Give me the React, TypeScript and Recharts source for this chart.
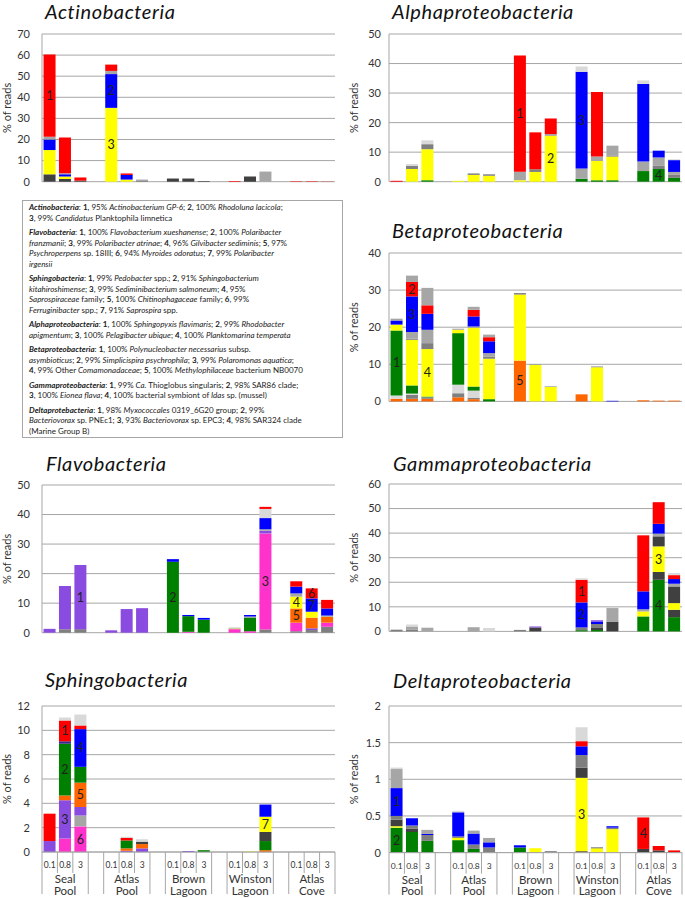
import { BarChart, Bar, XAxis, YAxis, CartesianGrid, LabelList } from "recharts";

const sites = ["Seal Pool", "Atlas Pool", "Brown Lagoon", "Winston Lagoon", "Atlas Cove"];
const fractions = ["0.1", "0.8", "3"];

const RED = "#FF0000";
const BLUE = "#0000FF";
const YELLOW = "#FFFF00";
const GREEN = "#008000";
const ORANGE = "#FF6600";
const PURPLE = "#8A4BE0";
const MAGENTA = "#FF33CC";
const NAVY = "#3B2A8A";
const DARK = "#404040";
const MID = "#7F7F7F";
const LIGHT = "#A6A6A6";
const PALE = "#D9D9D9";
const GRID = "#A6A6A6";

// bars: Seal 0.1, 0.8, 3 | Atlas Pool | Brown Lagoon | Winston Lagoon | Atlas Cove
// Actinobacteria
const actDark = [3.5, 1.3, 0.5, 0, 0, 0.2, 1.5, 1.5, 0.3, 0, 2.5, 0, 0, 0, 0];
const actYellow = [11.5, 1.2, 0, 35, 1, 0, 0, 0, 0, 0, 0, 0, 0, 0, 0];
const actBlue = [5, 1, 0, 16, 2.2, 0, 0, 0, 0, 0, 0, 0, 0, 0, 0];
const actGray = [1.3, 0.5, 0, 1.5, 0, 0.8, 0, 0, 0, 0, 0, 4.8, 0, 0, 0];
const actRed = [39, 17, 1.5, 3, 0.7, 0, 0, 0, 0, 0.3, 0, 0, 0.2, 0.2, 0.1];

// Alphaproteobacteria
const alpGreen = [0, 0, 0.5, 0, 0, 0, 0, 0, 0, 1.0, 0.5, 0.5, 3.6, 4.3, 1.3];
const alpYellow = [0, 4.3, 10.5, 0.3, 2.3, 2, 0.5, 3.3, 15.5, 0, 6.5, 8, 0, 0, 0];
const alpDark = [0, 1.1, 1.7, 0, 0.5, 0.5, 0, 0.9, 0, 0, 0, 0.4, 0, 1.2, 1.0];
const alpLight = [0, 0, 0, 0, 0, 0, 2.9, 0, 0.6, 3.5, 1.5, 3.3, 3.2, 2.7, 1.0];
const alpBlue = [0, 0, 0, 0, 0, 0, 0, 0, 0, 32.7, 0, 0, 26.3, 2.3, 4.0];
const alpRed = [0.3, 0, 0, 0, 0, 0, 39.3, 12.5, 5.3, 0, 21.9, 0, 0, 0, 0];
const alpPale = [0, 0.6, 1.3, 0, 0, 0, 0, 0, 0, 1.8, 0, 0, 1.2, 0, 0.3];

// Betaproteobacteria
const betOrange = [0.7, 0.7, 0.7, 1.1, 0.6, 0, 11.0, 0, 0, 1.9, 0, 0, 0.3, 0.2, 0.2];
const betDark = [0, 1.1, 0.4, 1.1, 0.4, 0, 0, 0, 0, 0, 0, 0, 0, 0, 0];
const betLight = [0.9, 0.3, 0, 2.3, 1.9, 0, 0, 0, 0, 0, 0, 0, 0, 0, 0];
const betGreen = [17.5, 2.2, 0.2, 13.9, 1.1, 0.6, 0, 0, 0, 0, 0, 0, 0, 0, 0];
const betYellow = [1.6, 12.3, 12.8, 0.9, 15.8, 10.9, 17.8, 9.8, 3.9, 0, 9.2, 0, 0, 0, 0];
const betDark2 = [0, 0.3, 1.6, 0, 0, 0.6, 0.4, 0.1, 0, 0, 0.2, 0, 0, 0, 0];
const betLight2 = [0, 1.8, 3.6, 0, 0.4, 0.9, 0, 0, 0.2, 0, 0, 0, 0, 0, 0];
const betBlue = [1.1, 9.6, 4.3, 0, 2.7, 3.2, 0, 0, 0, 0, 0, 0.15, 0, 0, 0];
const betRed = [0, 3.9, 2.3, 0, 1.8, 1.1, 0, 0, 0, 0, 0, 0, 0, 0, 0];
const betTop = [0.5, 1.7, 4.7, 0.3, 0.8, 0.7, 0, 0, 0, 0, 0, 0, 0, 0, 0];

// Flavobacteria
const flaDark = [0, 1.2, 1.2, 0, 0, 0, 0, 0, 0, 0, 0, 1.1, 0.5, 0.9, 2.0];
const flaMagenta = [0, 0, 0, 0, 0, 0, 0, 0.3, 0, 1.2, 0.5, 32.5, 2.9, 0, 1.4];
const flaPurple = [1.3, 14.6, 21.7, 0.8, 8.0, 8.3, 0, 0, 0, 0, 0, 0.9, 0, 0.6, 0];
const flaOrange = [0, 0, 0, 0, 0, 0, 0, 0, 0, 0, 0, 0, 4.8, 3.6, 2.0];
const flaYellow = [0, 0, 0, 0, 0, 0, 0, 0, 0, 0.2, 0, 0, 4.0, 2.0, 0];
const flaGreen = [0, 0, 0, 0, 0, 0, 24, 5.3, 4.4, 0, 4.6, 0, 0, 0, 0];
const flaLight = [0, 0, 0, 0, 0, 0, 0, 0, 0, 0.3, 0.4, 0.5, 1.1, 0, 0.4];
const flaBlue = [0, 0, 0, 0, 0, 0, 0.9, 0.4, 0.6, 0, 0.5, 3.8, 2.3, 4.5, 2.4];
const flaPale = [0, 0, 0, 0, 0, 0, 0, 0, 0, 0, 0, 3.1, 0, 0, 0];
const flaRed = [0, 0, 0, 0, 0, 0, 0, 0, 0, 0, 0, 0.7, 1.8, 3.4, 2.9];

// Gammaproteobacteria
const gamGreen = [0, 0, 0, 0, 0, 0, 0, 0, 0, 0.5, 0.6, 0, 6.1, 21, 5.8];
const gamDark = [0, 0, 0, 0, 0, 0, 0, 1.6, 0, 0, 0.8, 4.0, 0, 3.2, 3.0];
const gamYellow = [0, 0, 0, 0, 0, 0, 0, 0, 0, 0, 0, 0, 2.0, 10.4, 2.7];
const gamDark2 = [0, 0, 0, 0, 0, 0, 0, 0, 0, 0, 0, 0, 0, 4.1, 6.8];
const gamMid = [0.7, 0.8, 0, 0, 0, 0, 0.6, 0, 0, 1.1, 1.6, 0, 0, 0, 0];
const gamLight = [0, 1.2, 1.5, 0, 1.7, 0, 0, 0, 0, 0, 0, 5.5, 0.9, 1.1, 1.1];
const gamBlue = [0, 0, 0, 0, 0, 0, 0, 0, 0, 10.2, 1.0, 0, 7.3, 4.0, 1.9];
const gamPurple = [0, 0, 0, 0, 0, 0, 0, 0.4, 0, 0, 0.5, 0, 0, 0, 0];
const gamRed = [0, 0, 0, 0, 0, 0, 0, 0, 0, 9.2, 0, 0, 22.8, 8.8, 1.6];
const gamPale = [0, 0.8, 0, 0, 0, 1.4, 0, 0, 0, 0.6, 0, 0.5, 0, 0, 0.9];

// Sphingobacteria
const sphMagenta = [0, 1.1, 2.1, 0, 0, 0, 0, 0, 0, 0, 0, 0, 0, 0, 0];
const sphLight = [0, 0, 0.9, 0, 0, 0, 0, 0, 0, 0, 0, 0, 0, 0, 0];
const sphPurple = [0.9, 3.15, 0.7, 0, 0.1, 0.3, 0, 0.08, 0, 0, 0, 0, 0, 0, 0];
const sphOrange = [0, 0.4, 2.0, 0, 0.2, 0.35, 0, 0, 0, 0, 0, 0.15, 0, 0, 0];
const sphGreen = [0, 4.25, 1.3, 0, 0.65, 0, 0, 0, 0.15, 0, 0, 0.75, 0, 0, 0];
const sphDark = [0, 0, 0, 0, 0, 0.2, 0, 0, 0, 0, 0, 0.75, 0, 0, 0];
const sphYellow = [0, 0, 0, 0, 0, 0, 0, 0, 0, 0, 0.05, 1.25, 0, 0, 0];
const sphNavy = [0, 0.2, 0, 0, 0, 0, 0, 0, 0, 0, 0, 0, 0, 0, 0];
const sphBlue = [0, 0, 3.1, 0, 0, 0, 0, 0, 0, 0, 0, 1.0, 0, 0, 0];
const sphRed = [2.25, 1.7, 0.3, 0, 0.2, 0, 0, 0, 0, 0, 0, 0, 0, 0, 0];
const sphPale = [0, 0.25, 0.9, 0, 0.1, 0.2, 0, 0, 0, 0, 0, 0, 0, 0, 0];

// Deltaproteobacteria
const delDark = [0, 0, 0, 0, 0, 0, 0, 0, 0, 0.02, 0, 0, 0.05, 0.03, 0];
const delGreen = [0.34, 0.28, 0.16, 0.17, 0.05, 0, 0.07, 0, 0, 0, 0, 0, 0, 0, 0];
const delYellow = [0.02, 0, 0, 0.03, 0, 0, 0, 0.06, 0, 1.0, 0.06, 0.32, 0, 0, 0];
const delDark2 = [0.09, 0.05, 0, 0, 0, 0, 0, 0, 0, 0.14, 0.01, 0, 0, 0, 0];
const delMid = [0.05, 0.04, 0.08, 0.02, 0.06, 0.07, 0, 0, 0.02, 0.17, 0, 0.02, 0, 0, 0];
const delBlue = [0.38, 0.1, 0.015, 0.33, 0.15, 0.07, 0.03, 0, 0, 0.12, 0, 0.02, 0, 0, 0];
const delMid2 = [0.26, 0, 0.055, 0, 0.04, 0.06, 0, 0, 0, 0, 0, 0, 0, 0, 0];
const delRed = [0, 0, 0, 0, 0, 0, 0, 0, 0, 0.07, 0, 0, 0.43, 0.06, 0.03];
const delPale = [0.02, 0, 0, 0.02, 0, 0, 0, 0, 0, 0.19, 0, 0, 0, 0, 0];

// numbered OTU labels: layer, bar index, text
const actNotes = [
  { layer: "red", bar: 0, text: "1" },
  { layer: "blue", bar: 3, text: "2" },
  { layer: "yellow", bar: 3, text: "3" },
];
const alpNotes = [
  { layer: "red", bar: 6, text: "1" },
  { layer: "yellow", bar: 8, text: "2" },
  { layer: "blue", bar: 9, text: "3" },
  { layer: "green", bar: 13, text: "4" },
];
const betNotes = [
  { layer: "green", bar: 0, text: "1" },
  { layer: "red", bar: 1, text: "2" },
  { layer: "blue", bar: 1, text: "3" },
  { layer: "yellow", bar: 2, text: "4" },
  { layer: "orange", bar: 6, text: "5" },
];
const flaNotes = [
  { layer: "purple", bar: 2, text: "1" },
  { layer: "green", bar: 6, text: "2" },
  { layer: "magenta", bar: 11, text: "3" },
  { layer: "yellow", bar: 12, text: "4" },
  { layer: "orange", bar: 12, text: "5" },
  { layer: "red", bar: 13, text: "6" },
  { layer: "blue", bar: 13, text: "7" },
];
const gamNotes = [
  { layer: "red", bar: 9, text: "1" },
  { layer: "blue", bar: 9, text: "2" },
  { layer: "yellow", bar: 13, text: "3" },
  { layer: "green", bar: 13, text: "4" },
];
const sphNotes = [
  { layer: "red", bar: 1, text: "1" },
  { layer: "green", bar: 1, text: "2" },
  { layer: "purple", bar: 1, text: "3" },
  { layer: "blue", bar: 2, text: "4" },
  { layer: "orange", bar: 2, text: "5" },
  { layer: "magenta", bar: 2, text: "6" },
  { layer: "yellow", bar: 11, text: "7" },
];
const delNotes = [
  { layer: "blue", bar: 0, text: "1" },
  { layer: "green", bar: 0, text: "2" },
  { layer: "yellow", bar: 9, text: "3" },
  { layer: "red", bar: 12, text: "4" },
];

type Layer = { id: string; color: string; values: number[] };
type Note = { layer: string; bar: number; text: string };

function buildRows(layers: Layer[], notes: Note[]) {
  const rows: Record<string, any>[] = [];
  let bar = 0;
  sites.forEach((site, s) => {
    if (s > 0) rows.push({ key: `gap${s}` });
    fractions.forEach((frac) => {
      const row: Record<string, any> = { key: `${site}|${frac}` };
      layers.forEach((l) => {
        const v = l.values[bar];
        row[l.id] = v > 0 ? v : undefined;
      });
      notes
        .filter((n) => n.bar === bar)
        .forEach((n) => {
          row[`${n.layer}_note`] = n.text;
        });
      rows.push(row);
      bar++;
    });
  });
  return rows;
}

function CategoryTick(props: any) {
  const { x, y, payload, band } = props;
  const key: string = String(payload.value);
  if (key.startsWith("gap")) return null;
  const [site, frac] = key.split("|");
  const fi = fractions.indexOf(frac);
  const half = band / 2;
  return (
    <g>
      <line x1={x - half} x2={x - half} y1={y} y2={y + (fi === 0 ? 42 : 21)} stroke={GRID} />
      {fi === 2 && <line x1={x + half} x2={x + half} y1={y} y2={y + 42} stroke={GRID} />}
      <text x={x} y={y + 16} textAnchor="middle" fontSize={8.5} fill="#333">
        {frac}
      </text>
      {fi === 1 &&
        site.split(" ").map((w, i) => (
          <text key={w} x={x} y={y + 31 + i * 11.5} textAnchor="middle" fontSize={11.5} fill="#333">
            {w}
          </text>
        ))}
    </g>
  );
}

type PanelProps = {
  left: number;
  top: number;
  plotWidth: number;
  plotHeight: number;
  max: number;
  ticks: number[];
  layers: Layer[];
  notes: Note[];
  tickGap: number;
  showAxis?: boolean;
};

function Panel({ left, top, plotWidth, plotHeight, max, ticks, layers, notes, tickGap, showAxis }: PanelProps) {
  const yw = 46;
  const mt = 10;
  const axisH = showAxis ? 46 : 0;
  const mb = showAxis ? 0 : 10;
  const width = yw + plotWidth + 3;
  const height = mt + plotHeight + axisH + mb;
  const rows = buildRows(layers, notes);
  const band = plotWidth / rows.length;
  const noted = new Set(notes.map((n) => n.layer));

  return (
    <div style={{ position: "absolute", left: left - yw, top: top - mt }}>
      <BarChart
        width={width}
        height={height}
        data={rows}
        margin={{ top: mt, right: 3, bottom: mb, left: 0 }}
        barCategoryGap="10%"
      >
        <CartesianGrid vertical={false} stroke={GRID} />
        <XAxis
          dataKey="key"
          hide={!showAxis}
          height={axisH}
          interval={0}
          tickLine={false}
          tickSize={0}
          tickMargin={0}
          axisLine={{ stroke: GRID }}
          tick={(p: any) => <CategoryTick {...p} band={band} />}
        />
        <YAxis
          width={yw}
          domain={[0, max]}
          ticks={ticks}
          interval={0}
          tickLine={false}
          tickSize={0}
          tickMargin={tickGap}
          axisLine={{ stroke: GRID }}
          tick={{ fontSize: 11, fill: "#333" }}
          label={{
            value: "% of reads",
            angle: -90,
            position: "insideLeft",
            offset: 11,
            style: { textAnchor: "middle", fontSize: 11, fill: "#333" },
          }}
        />
        {layers.map((l) => (
          <Bar key={l.id} dataKey={l.id} stackId="s" fill={l.color} isAnimationActive={false}>
            {noted.has(l.id) && (
              <LabelList dataKey={`${l.id}_note`} position="center" fontSize={12.5} fill="#222" />
            )}
          </Bar>
        ))}
      </BarChart>
    </div>
  );
}

const titles = [
  { text: "Actinobacteria", x: 45, y: 19 },
  { text: "Alphaproteobacteria", x: 392, y: 19 },
  { text: "Betaproteobacteria", x: 392, y: 238 },
  { text: "Flavobacteria", x: 46, y: 470.5 },
  { text: "Gammaproteobacteria", x: 393, y: 471 },
  { text: "Sphingobacteria", x: 45, y: 686.5 },
  { text: "Deltaproteobacteria", x: 393, y: 687.5 },
];

const B = ({ children }: any) => <b>{children}</b>;
const I = ({ children }: any) => <i>{children}</i>;
const BI = ({ children }: any) => (
  <b>
    <i>{children}</i>
  </b>
);

const legendParagraphs = [
  [
    <>
      <BI>Actinobacteria</BI>: <B>1</B>, 95% <I>Actinobacterium GP-6</I>; <B>2</B>, 100% <I>Rhodoluna lacicola</I>;
    </>,
    <>
      <B>3</B>, 99% <I>Candidatus</I> Planktophila limnetica
    </>,
  ],
  [
    <>
      <BI>Flavobacteria</BI>: <B>1</B>, 100% <I>Flavobacterium xueshanense</I>; <B>2</B>, 100% <I>Polaribacter</I>
    </>,
    <>
      <I>franzmanii</I>; <B>3</B>, 99% <I>Polaribacter atrinae</I>; <B>4</B>, 96% <I>Gilvibacter sediminis</I>; <B>5</B>, 97%
    </>,
    <>
      <I>Psychroperpens</I> sp. 18III; <B>6</B>, 94% <I>Myroides odoratus</I>; <B>7</B>, 99% <I>Polaribacter</I>
    </>,
    <>
      <I>irgensii</I>
    </>,
  ],
  [
    <>
      <BI>Sphingobacteria</BI>: <B>1</B>, 99% <I>Pedobacter</I> spp.; <B>2</B>, 91% <I>Sphingobacterium</I>
    </>,
    <>
      <I>kitahiroshimense</I>; <B>3</B>, 99% <I>Sediminibacterium salmoneum</I>; <B>4</B>, 95%
    </>,
    <>
      <I>Saprospiraceae</I> family; <B>5</B>, 100% <I>Chitinophagaceae</I> family; <B>6</B>, 99%
    </>,
    <>
      <I>Ferruginibacter</I> spp.; <B>7</B>, 91% <I>Saprospira</I> spp.
    </>,
  ],
  [
    <>
      <BI>Alphaproteobacteria</BI>: <B>1</B>, 100% <I>Sphingopyxis flavimaris</I>; <B>2</B>, 99% <I>Rhodobacter</I>
    </>,
    <>
      <I>apigmentum</I>; <B>3</B>, 100% <I>Pelagibacter ubique</I>; <B>4</B>, 100% <I>Planktomarina temperata</I>
    </>,
  ],
  [
    <>
      <BI>Betaproteobacteria</BI>: <B>1</B>, 100% <I>Polynucleobacter necessarius</I> subsp.
    </>,
    <>
      <I>asymbioticus</I>; <B>2</B>, 99% <I>Simplicispira psychrophila</I>; <B>3</B>, 99% <I>Polaromonas aquatica</I>;
    </>,
    <>
      <B>4</B>, 99% Other <I>Comamonadaceae</I>; <B>5</B>, 100% <I>Methylophilaceae</I> bacterium NB0070
    </>,
  ],
  [
    <>
      <BI>Gammaproteobacteria</BI>: <B>1</B>, 99% <I>Ca.</I> Thioglobus singularis; <B>2</B>, 98% SAR86 clade;
    </>,
    <>
      <B>3</B>, 100% <I>Eionea flava</I>; <B>4</B>, 100% bacterial symbiont of <I>Idas</I> sp. (mussel)
    </>,
  ],
  [
    <>
      <BI>Deltaprotebacteria</BI>: <B>1</B>, 98% <I>Myxococcales</I> 0319_6G20 group; <B>2</B>, 99%
    </>,
    <>
      <I>Bacteriovorax</I> sp. PNEc1; <B>3</B>, 93% <I>Bacteriovorax</I> sp. EPC3; <B>4</B>, 98% SAR324 clade
    </>,
    <>(Marine Group B)</>,
  ],
];

export default function App() {
  return (
    <div
      style={{
        position: "absolute",
        left: 0,
        top: 0,
        width: 685,
        height: 898,
        background: "#fff",
        fontFamily: "Lato, 'Open Sans', sans-serif",
        overflow: "hidden",
      }}
    >
      <Panel
        left={42}
        top={34}
        plotWidth={293}
        plotHeight={147.7}
        max={70}
        ticks={[0, 10, 20, 30, 40, 50, 60, 70]}
        tickGap={12}
        notes={actNotes}
        layers={[
          { id: "dark", color: DARK, values: actDark },
          { id: "yellow", color: YELLOW, values: actYellow },
          { id: "blue", color: BLUE, values: actBlue },
          { id: "gray", color: LIGHT, values: actGray },
          { id: "red", color: RED, values: actRed },
        ]}
      />
      <Panel
        left={389}
        top={34}
        plotWidth={293}
        plotHeight={147.7}
        max={50}
        ticks={[0, 10, 20, 30, 40, 50]}
        tickGap={8}
        notes={alpNotes}
        layers={[
          { id: "green", color: GREEN, values: alpGreen },
          { id: "yellow", color: YELLOW, values: alpYellow },
          { id: "dark", color: MID, values: alpDark },
          { id: "light", color: LIGHT, values: alpLight },
          { id: "blue", color: BLUE, values: alpBlue },
          { id: "red", color: RED, values: alpRed },
          { id: "pale", color: PALE, values: alpPale },
        ]}
      />
      <Panel
        left={389}
        top={253.3}
        plotWidth={293}
        plotHeight={148.4}
        max={40}
        ticks={[0, 10, 20, 30, 40]}
        tickGap={8}
        notes={betNotes}
        layers={[
          { id: "orange", color: ORANGE, values: betOrange },
          { id: "dark", color: MID, values: betDark },
          { id: "light", color: PALE, values: betLight },
          { id: "green", color: GREEN, values: betGreen },
          { id: "yellow", color: YELLOW, values: betYellow },
          { id: "dark2", color: MID, values: betDark2 },
          { id: "light2", color: LIGHT, values: betLight2 },
          { id: "blue", color: BLUE, values: betBlue },
          { id: "red", color: RED, values: betRed },
          { id: "top", color: LIGHT, values: betTop },
        ]}
      />
      <Panel
        left={42}
        top={485}
        plotWidth={293}
        plotHeight={147.7}
        max={50}
        ticks={[0, 10, 20, 30, 40, 50]}
        tickGap={12}
        notes={flaNotes}
        layers={[
          { id: "dark", color: MID, values: flaDark },
          { id: "magenta", color: MAGENTA, values: flaMagenta },
          { id: "purple", color: PURPLE, values: flaPurple },
          { id: "orange", color: ORANGE, values: flaOrange },
          { id: "yellow", color: YELLOW, values: flaYellow },
          { id: "green", color: GREEN, values: flaGreen },
          { id: "light", color: LIGHT, values: flaLight },
          { id: "blue", color: BLUE, values: flaBlue },
          { id: "pale", color: PALE, values: flaPale },
          { id: "red", color: RED, values: flaRed },
        ]}
      />
      <Panel
        left={389}
        top={484.3}
        plotWidth={293}
        plotHeight={147.4}
        max={60}
        ticks={[0, 10, 20, 30, 40, 50, 60]}
        tickGap={8}
        notes={gamNotes}
        layers={[
          { id: "green", color: GREEN, values: gamGreen },
          { id: "dark", color: DARK, values: gamDark },
          { id: "yellow", color: YELLOW, values: gamYellow },
          { id: "dark2", color: DARK, values: gamDark2 },
          { id: "mid", color: MID, values: gamMid },
          { id: "light", color: LIGHT, values: gamLight },
          { id: "blue", color: BLUE, values: gamBlue },
          { id: "purple", color: PURPLE, values: gamPurple },
          { id: "red", color: RED, values: gamRed },
          { id: "pale", color: PALE, values: gamPale },
        ]}
      />
      <Panel
        left={42}
        top={705.7}
        plotWidth={293}
        plotHeight={146}
        max={12}
        ticks={[0, 2, 4, 6, 8, 10, 12]}
        tickGap={12}
        showAxis
        notes={sphNotes}
        layers={[
          { id: "magenta", color: MAGENTA, values: sphMagenta },
          { id: "light", color: LIGHT, values: sphLight },
          { id: "purple", color: PURPLE, values: sphPurple },
          { id: "orange", color: ORANGE, values: sphOrange },
          { id: "green", color: GREEN, values: sphGreen },
          { id: "dark", color: DARK, values: sphDark },
          { id: "yellow", color: YELLOW, values: sphYellow },
          { id: "navy", color: NAVY, values: sphNavy },
          { id: "blue", color: BLUE, values: sphBlue },
          { id: "red", color: RED, values: sphRed },
          { id: "pale", color: PALE, values: sphPale },
        ]}
      />
      <Panel
        left={389}
        top={705.7}
        plotWidth={293}
        plotHeight={146.6}
        max={2}
        ticks={[0, 0.5, 1, 1.5, 2]}
        tickGap={8}
        showAxis
        notes={delNotes}
        layers={[
          { id: "dark", color: DARK, values: delDark },
          { id: "green", color: GREEN, values: delGreen },
          { id: "yellow", color: YELLOW, values: delYellow },
          { id: "dark2", color: DARK, values: delDark2 },
          { id: "mid", color: MID, values: delMid },
          { id: "blue", color: BLUE, values: delBlue },
          { id: "mid2", color: LIGHT, values: delMid2 },
          { id: "red", color: RED, values: delRed },
          { id: "pale", color: PALE, values: delPale },
        ]}
      />

      <svg
        width={685}
        height={898}
        style={{ position: "absolute", left: 0, top: 0, pointerEvents: "none" }}
      >
        {titles.map((t) => (
          <text
            key={t.text}
            x={t.x}
            y={t.y}
            fontSize={20}
            letterSpacing={0.6}
            fontStyle="italic"
            fill="#111"
          >
            {t.text}
          </text>
        ))}
      </svg>

      <div
        style={{
          position: "absolute",
          left: 22,
          top: 200,
          width: 313,
          height: 235,
          border: `1px solid ${GRID}`,
          padding: "1px 0 0 6px",
          boxSizing: "content-box",
          fontSize: 8,
          lineHeight: "10.5px",
          color: "#222",
        }}
      >
        {legendParagraphs.map((lines, pi) => (
          <div key={pi} style={{ marginBottom: 4 }}>
            {lines.map((line, li) => (
              <div key={li} style={{ whiteSpace: "nowrap" }}>
                {line}
              </div>
            ))}
          </div>
        ))}
      </div>
    </div>
  );
}
